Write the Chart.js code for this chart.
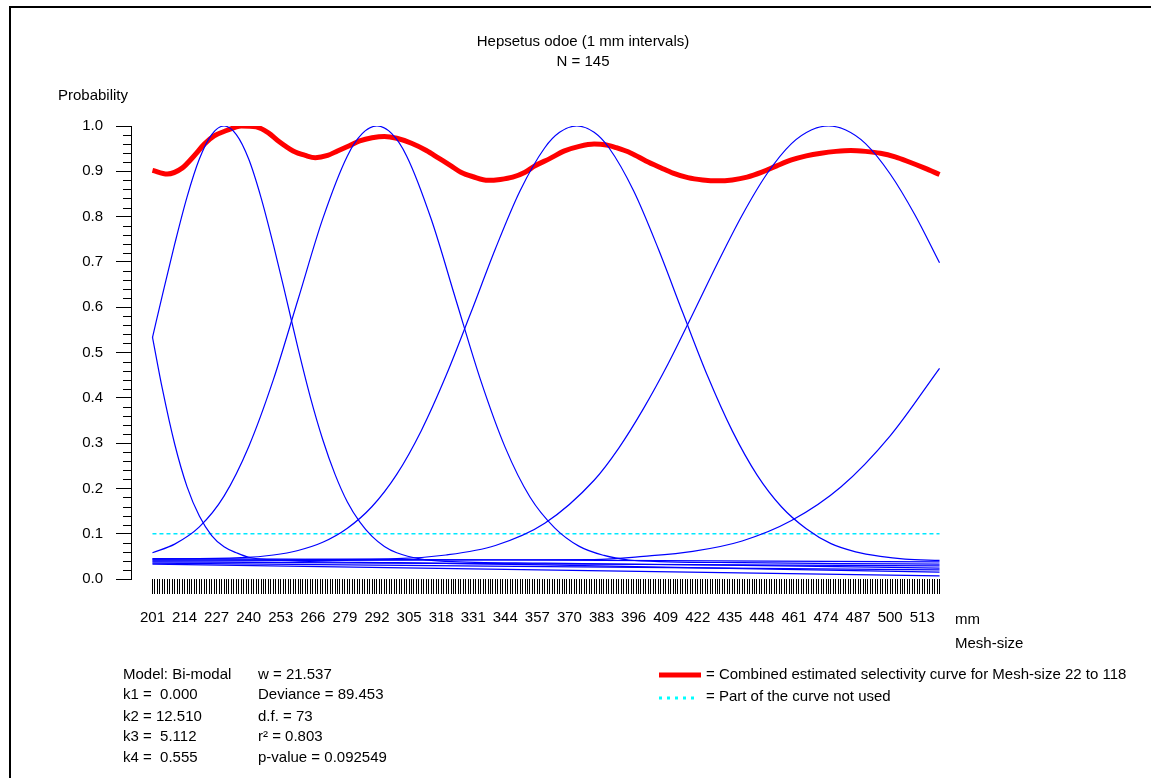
<!DOCTYPE html>
<html>
<head>
<meta charset="utf-8">
<title>Hepsetus odoe selectivity</title>
<script src="https://cdn.jsdelivr.net/npm/chart.js@4.4.1/dist/chart.umd.min.js"></script>
<style>
  html, body { margin: 0; padding: 0; background: #fff; }
  canvas { display: block; }
</style>
</head>
<body>
<canvas id="chart" width="1151" height="778"></canvas>
<script>
// mesh-size axis labels (mm) and probability axis labels
const xTickLabels = [201, 214, 227, 240, 253, 266, 279, 292, 305, 318, 331, 344, 357,
  370, 383, 396, 409, 422, 435, 448, 461, 474, 487, 500, 513];
const yTickLabels = [0, 0.1, 0.2, 0.3, 0.4, 0.5, 0.6, 0.7, 0.8, 0.9, 1.0];
const firstMm = 201;
const lastMm = 520;

// single mesh selectivity curves
const curve0X = [201, 205, 210, 215, 220, 225, 230, 235, 240, 250, 300, 360, 440, 520];
const curve0Y = [0.534, 0.42, 0.298, 0.204, 0.139, 0.096, 0.071, 0.058, 0.048, 0.042, 0.036, 0.031, 0.023, 0.015];

const curve1X = [201, 205, 210, 215, 220, 225, 230, 235, 240, 245, 250, 255, 260, 265, 270, 275, 280, 285, 290, 295, 300, 310, 320, 360, 440, 520];
const curve1Y = [0.533, 0.626, 0.739, 0.843, 0.927, 0.981, 1.0, 0.981, 0.927, 0.842, 0.738, 0.625, 0.509, 0.401, 0.308, 0.231, 0.170, 0.126, 0.094, 0.072, 0.058, 0.044, 0.039, 0.035, 0.030, 0.024];

const curve2X = [201, 210, 220, 230, 240, 250, 260, 270, 280, 286, 292, 298, 304, 314, 324, 334, 344, 354, 364, 374, 384, 394, 410, 440, 480, 520];
const curve2Y = [0.058, 0.077, 0.115, 0.183, 0.292, 0.440, 0.617, 0.795, 0.934, 0.983, 1.0, 0.983, 0.934, 0.794, 0.616, 0.439, 0.290, 0.181, 0.113, 0.072, 0.052, 0.042, 0.038, 0.036, 0.034, 0.033];

const curve3X = [201, 237, 250, 260, 270, 280, 290, 300, 310, 320, 330, 340, 350, 360, 366, 373, 380, 386, 396, 406, 416, 426, 436, 446, 456, 466, 476, 486, 496, 506, 520];
const curve3Y = [0.044, 0.047, 0.053, 0.063, 0.081, 0.112, 0.160, 0.231, 0.328, 0.449, 0.587, 0.729, 0.857, 0.952, 0.986, 1.0, 0.986, 0.952, 0.857, 0.729, 0.587, 0.448, 0.327, 0.230, 0.159, 0.111, 0.078, 0.060, 0.050, 0.044, 0.041];

const curve4X = [201, 300, 320, 340, 360, 380, 390, 400, 410, 420, 430, 440, 450, 460, 468, 475, 482, 490, 500, 510, 520];
const curve4Y = [0.042, 0.045, 0.053, 0.074, 0.123, 0.218, 0.289, 0.376, 0.475, 0.585, 0.697, 0.803, 0.894, 0.961, 0.991, 1.0, 0.991, 0.961, 0.894, 0.804, 0.698];

const curve5X = [201, 380, 400, 420, 440, 460, 480, 500, 520];
const curve5Y = [0.040, 0.043, 0.050, 0.061, 0.084, 0.129, 0.203, 0.316, 0.465];

// tails of the meshes whose modes lie outside the plotted range
const tailX = [201, 520];
const tailAY = [0.033, 0.007];
const tailBY = [0.035, 0.020];
const tailCY = [0.038, 0.029];
const tailDY = [0.045, 0.038];

// combined estimated selectivity curve
const combinedX = [201, 207, 213, 218, 222, 226, 231, 237, 243, 248, 252, 258, 263, 267, 272, 276, 281, 285, 290, 295,
  300, 306, 312, 317, 322, 326, 331, 337, 342, 347, 352, 356, 362, 368, 374, 380, 385, 389, 395, 401,
  407, 412, 418, 424, 430, 436, 442, 448, 454, 460, 466, 472, 478, 484, 490, 496, 502, 508, 514, 520];
const combinedY = [0.902, 0.894, 0.907, 0.935, 0.960, 0.978, 0.990, 1.0, 0.998, 0.985, 0.967, 0.945, 0.935, 0.930, 0.935, 0.945, 0.957, 0.967, 0.974, 0.977,
  0.973, 0.962, 0.946, 0.929, 0.912, 0.898, 0.888, 0.880, 0.882, 0.887, 0.898, 0.912, 0.928, 0.945, 0.955, 0.960, 0.958, 0.952, 0.940, 0.923,
  0.908, 0.896, 0.886, 0.881, 0.879, 0.881, 0.887, 0.898, 0.912, 0.925, 0.934, 0.940, 0.944, 0.946, 0.944, 0.940, 0.932, 0.920, 0.907, 0.893];

// cut-off level below which the curve is not used
const cutoffX = [201, 520];
const cutoffY = [0.1, 0.1];

const modelLeft = ["Model: Bi-modal", "k1 =  0.000", "k2 = 12.510", "k3 =  5.112", "k4 =  0.555"];
const modelRight = ["w = 21.537", "Deviance = 89.453", "d.f. = 73", "r\u00B2 = 0.803", "p-value = 0.092549"];
const legendLabels = ["= Combined estimated selectivity curve for Mesh-size 22 to 118", "= Part of the curve not used"];

const FONT = "Arial, 'Liberation Sans', sans-serif";
Chart.defaults.font.family = FONT;
Chart.defaults.font.size = 15;
Chart.defaults.color = "#000";

function pts(xs, ys) {
  return xs.map((x, i) => ({ x: x, y: ys[i] }));
}

function blue(xs, ys) {
  return {
    data: pts(xs, ys),
    borderColor: "#0000ff",
    borderWidth: 1.2,
    pointRadius: 0,
    cubicInterpolationMode: "monotone",
    fill: false,
    order: 1
  };
}

// texts, frame, minor ticks and legend
const decorations = {
  id: "decorations",
  beforeDraw(chart) {
    const ctx = chart.ctx;
    ctx.save();
    ctx.fillStyle = "#fff";
    ctx.fillRect(0, 0, chart.width, chart.height);
    ctx.restore();
  },
  afterDraw(chart) {
    const ctx = chart.ctx;
    const area = chart.chartArea;
    const yScale = chart.scales.y;
    ctx.save();

    // outer frame
    ctx.strokeStyle = "#000";
    ctx.lineWidth = 2;
    ctx.beginPath();
    ctx.moveTo(10, chart.height);
    ctx.lineTo(10, 7);
    ctx.lineTo(chart.width, 7);
    ctx.stroke();

    // minor ticks on the probability axis
    ctx.lineWidth = 1;
    ctx.beginPath();
    for (let i = 0; i <= 50; i++) {
      if (i % 5 === 0) continue;
      const y = Math.round(yScale.getPixelForValue(i / 50)) + 0.5;
      ctx.moveTo(area.left - 8, y);
      ctx.lineTo(area.left, y);
    }
    ctx.stroke();

    ctx.fillStyle = "#000";
    ctx.font = "15px " + FONT;
    ctx.textBaseline = "middle";

    ctx.textAlign = "center";
    ctx.fillText("Hepsetus odoe (1 mm intervals)", 583, 42);
    ctx.fillText("N = 145", 583, 62);

    ctx.textAlign = "left";
    ctx.fillText("Probability", 58, 96);
    ctx.fillText("mm", 955, 620);
    ctx.fillText("Mesh-size", 955, 644);

    const rows = [675, 695, 717, 737, 758];
    modelLeft.forEach((t, i) => ctx.fillText(t, 123, rows[i]));
    modelRight.forEach((t, i) => ctx.fillText(t, 258, rows[i]));

    // legend
    ctx.strokeStyle = "#ff0000";
    ctx.lineWidth = 5;
    ctx.beginPath();
    ctx.moveTo(659, 675);
    ctx.lineTo(701, 675);
    ctx.stroke();

    ctx.strokeStyle = "#00ffff";
    ctx.lineWidth = 3;
    ctx.setLineDash([3, 5]);
    ctx.beginPath();
    ctx.moveTo(659, 698);
    ctx.lineTo(699, 698);
    ctx.stroke();
    ctx.setLineDash([]);

    ctx.fillText(legendLabels[0], 706, 675);
    ctx.fillText(legendLabels[1], 706, 697);
    ctx.restore();
  }
};

const mmTicks = [];
for (let v = firstMm; v <= lastMm; v++) mmTicks.push({ value: v });

new Chart(document.getElementById("chart"), {
  type: "line",
  data: {
    datasets: [
      blue(curve0X, curve0Y),
      blue(curve1X, curve1Y),
      blue(curve2X, curve2Y),
      blue(curve3X, curve3Y),
      blue(curve4X, curve4Y),
      blue(curve5X, curve5Y),
      blue(tailX, tailAY),
      blue(tailX, tailBY),
      blue(tailX, tailCY),
      blue(tailX, tailDY),
      {
        data: pts(cutoffX, cutoffY),
        borderColor: "#00e8ff",
        borderWidth: 1.6,
        borderDash: [4, 3],
        pointRadius: 0,
        fill: false,
        order: 2
      },
      {
        data: pts(combinedX, combinedY),
        borderColor: "#ff0000",
        borderWidth: 5,
        pointRadius: 0,
        cubicInterpolationMode: "monotone",
        fill: false,
        order: 3
      }
    ]
  },
  options: {
    responsive: false,
    animation: false,
    devicePixelRatio: 1,
    layout: { padding: { top: 126, right: 209, bottom: 0, left: 0 } },
    plugins: {
      legend: { display: false },
      title: { display: false },
      tooltip: { enabled: false }
    },
    scales: {
      x: {
        type: "linear",
        min: 192.3,
        max: 521,
        afterBuildTicks: (scale) => { scale.ticks = mmTicks.slice(); },
        afterFit: (scale) => { scale.height = 199; },
        border: { display: false },
        grid: { drawOnChartArea: false, drawTicks: true, tickLength: 15, color: "#000" },
        ticks: {
          autoSkip: false,
          maxRotation: 0,
          minRotation: 0,
          padding: 15,
          callback: (v) => (xTickLabels.includes(v) ? String(v) : "")
        }
      },
      y: {
        type: "linear",
        min: 0,
        max: 1,
        afterBuildTicks: (scale) => { scale.ticks = yTickLabels.map((v) => ({ value: v })); },
        afterFit: (scale) => { scale.width = 131; },
        border: { display: true, color: "#000", width: 1 },
        grid: { drawOnChartArea: false, drawTicks: true, tickLength: 15, color: "#000" },
        ticks: {
          padding: 13,
          callback: (v) => v.toFixed(1)
        }
      }
    }
  },
  plugins: [decorations]
});
</script>
</body>
</html>
